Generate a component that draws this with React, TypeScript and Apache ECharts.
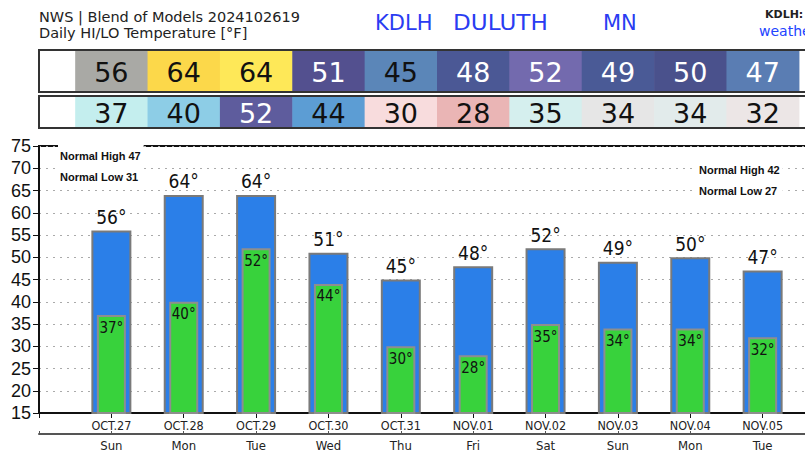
import React, { useEffect, useRef } from 'react';
import * as echarts from 'echarts';

const dates = ['OCT.27', 'OCT.28', 'OCT.29', 'OCT.30', 'OCT.31', 'NOV.01', 'NOV.02', 'NOV.03', 'NOV.04', 'NOV.05'];
const days = ['Sun', 'Mon', 'Tue', 'Wed', 'Thu', 'Fri', 'Sat', 'Sun', 'Mon', 'Tue'];
const highs = [56, 64, 64, 51, 45, 48, 52, 49, 50, 47];
const lows = [37, 40, 52, 44, 30, 28, 35, 34, 34, 32];
const highColors = ['#a9a9a5', '#fcd84a', '#fee858', '#53508f', '#5b86b8', '#4b5895', '#736aae', '#4a5a96', '#4a518c', '#5a7db3'];
const highTextColors = ['#111', '#111', '#111', '#fff', '#111', '#fff', '#fff', '#fff', '#fff', '#fff'];
const lowColors = ['#c4eeee', '#8dcde6', '#5e5c9d', '#5c9dd4', '#f8dcdd', '#eab5b5', '#d5efee', '#e6e6e6', '#e2ebeb', '#ece6e6'];
const lowTextColors = ['#111', '#111', '#fff', '#111', '#111', '#111', '#111', '#111', '#111', '#111'];
const normalHighs = [47, 42];
const normalLows = [31, 27];
const titleLines = ['NWS | Blend of Models 2024102619', 'Daily HI/LO Temperature [°F]'];
const stationWords = ['KDLH', 'DULUTH', 'MN'];
const linkLabel = 'KDLH:';
const linkText = 'weather.gov/dlh';

const Y_MIN = 15;
const Y_MAX = 75;
const Y_STEP = 5;

const CHART_W = 845;
const CHART_H = 459;

const axisCats = (list: string[]) => ['', ...list, ''];

function tableRenderer(vals: number[], colors: string[], textColors: string[]) {
  return (params: any, api: any) => {
    const i = params.dataIndex;
    const pt = api.coord([api.value(0), 0]);
    const w = api.size([1, 0])[0];
    const cs = params.coordSys;
    return {
      type: 'group',
      children: [
        {
          type: 'rect',
          shape: { x: pt[0] - w / 2, y: cs.y + 1, width: w + 0.6, height: cs.height - 2 },
          style: { fill: colors[i] },
        },
        {
          type: 'text',
          style: {
            text: String(vals[i]),
            x: pt[0],
            y: cs.y + cs.height / 2 + 1,
            align: 'center',
            verticalAlign: 'middle',
            fill: textColors[i],
            font: '27px "DejaVu Sans"',
          },
        },
      ],
    };
  };
}

export default function App() {
  const ref = useRef<HTMLDivElement>(null);

  useEffect(() => {
    document.body.style.margin = '0';
    const chart = echarts.init(ref.current!, null, { renderer: 'svg' });
    const gridLeft = 39;
    const gridWidth = 796;
    const hiData = highs.map((v, i) => [i + 1, v]);
    const loData = lows.map((v, i) => [i + 1, v]);

    const option: any = {
      animation: false,
      backgroundColor: '#fff',
      grid: [
        {
          left: gridLeft, top: 146, width: gridWidth, height: 267, containLabel: false,
          show: true, borderColor: '#111', borderWidth: 2, backgroundColor: 'transparent',
        },
        {
          left: gridLeft, top: 50, width: gridWidth, height: 42, containLabel: false,
          show: true, borderColor: '#333', borderWidth: 2, backgroundColor: '#fff',
        },
        {
          left: gridLeft, top: 96, width: gridWidth, height: 32, containLabel: false,
          show: true, borderColor: '#333', borderWidth: 2, backgroundColor: '#fff',
        },
      ],
      xAxis: [
        {
          gridIndex: 0, type: 'category', boundaryGap: false, data: axisCats(dates), position: 'bottom',
          axisLine: { show: true, lineStyle: { color: '#111', width: 2 } },
          axisTick: { show: true, interval: 0, length: 5, lineStyle: { color: '#111', width: 1 } },
          axisLabel: {
            interval: 0, margin: 6, color: '#222', fontSize: 12.5,
            fontFamily: '"DejaVu Sans Condensed", "DejaVu Sans"',
          },
          splitLine: { show: false },
        },
        {
          gridIndex: 0, type: 'category', boundaryGap: false, data: axisCats(days), position: 'bottom', offset: 21,
          axisLine: { show: true, lineStyle: { color: '#555', width: 2 } },
          axisTick: { show: true, inside: true, interval: 0, length: 3, lineStyle: { color: '#555', width: 1 } },
          axisLabel: {
            interval: 0, margin: 5, color: '#222', fontSize: 13,
            fontFamily: '"DejaVu Sans Condensed", "DejaVu Sans"',
          },
          splitLine: { show: false },
        },
        {
          gridIndex: 1, type: 'category', boundaryGap: false, data: axisCats(dates), show: false,
        },
        {
          gridIndex: 2, type: 'category', boundaryGap: false, data: axisCats(dates), show: false,
        },
      ],
      yAxis: [
        {
          gridIndex: 0, type: 'value', min: Y_MIN, max: Y_MAX, interval: Y_STEP,
          axisLine: { show: true, lineStyle: { color: '#111', width: 2 } },
          axisTick: { show: true, length: 6, lineStyle: { color: '#111', width: 1 } },
          axisLabel: { margin: 8, color: '#111', fontSize: 18, fontFamily: '"Liberation Sans", Arial' },
          splitLine: { show: true, lineStyle: { color: '#aaa', type: [2, 5], width: 1 } },
        },
        { gridIndex: 1, type: 'value', min: 0, max: 1, show: false },
        { gridIndex: 2, type: 'value', min: 0, max: 1, show: false },
      ],
      series: [
        {
          type: 'bar', name: 'High', xAxisIndex: 0, yAxisIndex: 0, data: hiData, barWidth: 40,
          itemStyle: { color: '#2b7fe8', borderColor: '#7a7a7a', borderWidth: 2 },
          label: {
            show: true, position: 'top', distance: 4, color: '#111', fontSize: 19,
            fontFamily: '"DejaVu Sans Condensed", "DejaVu Sans"',
            formatter: (p: any) => p.value[1] + '°',
          },
          z: 2,
        },
        {
          type: 'bar', name: 'Low', xAxisIndex: 1, yAxisIndex: 0, data: loData, barWidth: 29,
          itemStyle: { color: '#38d23c', borderColor: '#8e8e8e', borderWidth: 2 },
          label: {
            show: true, position: 'insideTop', distance: 5, color: '#111', fontSize: 15,
            fontFamily: '"DejaVu Sans Condensed", "DejaVu Sans"',
            formatter: (p: any) => p.value[1] + '°',
          },
          z: 3,
        },
        {
          type: 'custom', name: 'HiTable', xAxisIndex: 2, yAxisIndex: 1, data: hiData,
          renderItem: tableRenderer(highs, highColors, highTextColors), silent: true,
        },
        {
          type: 'custom', name: 'LoTable', xAxisIndex: 3, yAxisIndex: 2, data: loData,
          renderItem: tableRenderer(lows, lowColors, lowTextColors), silent: true,
        },
      ],
      graphic: [
        {
          type: 'text', left: 39, top: 9, z: 10,
          style: { text: titleLines[0], fill: '#222', font: '14.5px "DejaVu Sans"' },
        },
        {
          type: 'text', left: 39, top: 25, z: 10,
          style: { text: titleLines[1], fill: '#222', font: '14.5px "DejaVu Sans"' },
        },
        {
          type: 'text', left: 375, top: 12, z: 10,
          style: { text: stationWords[0], fill: '#2a3cf2', font: '21px "DejaVu Sans"' },
        },
        {
          type: 'text', left: 453, top: 12, z: 10, scaleX: 1.1,
          style: { text: stationWords[1], fill: '#2a3cf2', font: '21px "DejaVu Sans"' },
        },
        {
          type: 'text', left: 603, top: 12, z: 10,
          style: { text: stationWords[2], fill: '#2a3cf2', font: '21px "DejaVu Sans"' },
        },
        {
          type: 'text', left: 765, top: 9, z: 10,
          style: { text: linkLabel, fill: '#222', font: 'bold 11px "DejaVu Sans"' },
        },
        {
          type: 'text', left: 759, top: 24, z: 10,
          style: { text: linkText, fill: '#2244ff', font: '14px "DejaVu Sans"' },
        },
        {
          type: 'text', left: 58, top: 145, z: 20,
          style: {
            text: `Normal High ${normalHighs[0]}\nNormal Low ${normalLows[0]}`,
            fill: '#111', font: 'bold 11px "Liberation Sans", Arial', lineHeight: 21,
            backgroundColor: '#fff', padding: [0, 3, 2, 2],
          },
        },
        {
          type: 'text', left: 697, top: 159, z: 20,
          style: {
            text: `Normal High ${normalHighs[1]}\nNormal Low ${normalLows[1]}`,
            fill: '#111', font: 'bold 11px "Liberation Sans", Arial', lineHeight: 21,
            backgroundColor: '#fff', padding: [0, 3, 2, 2],
          },
        },
      ],
    };

    chart.setOption(option);
    return () => chart.dispose();
  }, []);

  return (
    <div style={{ position: 'fixed', left: 0, top: 0, width: 805, height: 459, overflow: 'hidden', background: '#fff' }}>
      <div ref={ref} style={{ width: CHART_W, height: CHART_H }} />
    </div>
  );
}
